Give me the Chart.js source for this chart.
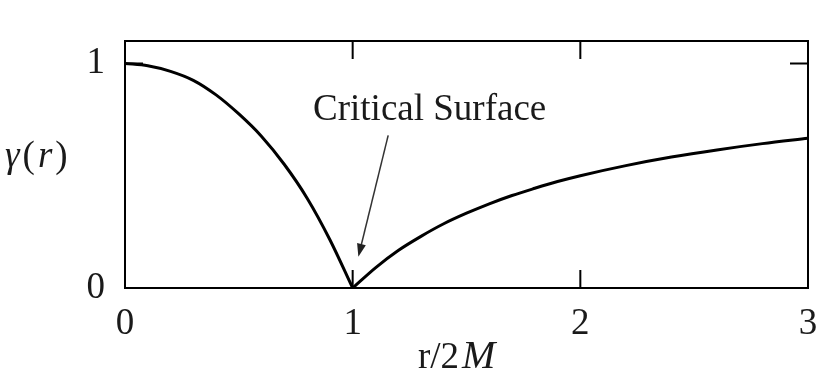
<!DOCTYPE html>
<html>
<head>
<meta charset="utf-8">
<script src="https://cdn.jsdelivr.net/npm/chart.js@4.4.1/dist/chart.umd.min.js"></script>
<style>
  html, body { margin: 0; padding: 0; background: #fff; }
  #wrap { width: 830px; height: 378px; }
</style>
</head>
<body>
<div id="wrap"><canvas id="gammaChart"></canvas></div>
<script>
// r/2M values and gamma(r)
const rInner = [0, 0.1, 0.2, 0.3, 0.4, 0.5, 0.6, 0.7, 0.8, 0.9, 1.0];
const gammaInner = [1.0, 0.99, 0.965, 0.925, 0.86, 0.775, 0.675, 0.55, 0.4, 0.215, 0];
const rOuter = [1.0, 1.1, 1.2, 1.3, 1.4, 1.5, 1.6, 1.7, 1.8, 1.9, 2.0, 2.2, 2.4, 2.6, 2.8, 3.0];
const gammaOuter = [0, 0.09, 0.167, 0.23, 0.286, 0.333, 0.375, 0.412, 0.444, 0.474, 0.5, 0.545, 0.583, 0.615, 0.643, 0.667];
const xTicks = [0, 1, 2, 3];
const yTicks = [0, 1];

const serif = "'Liberation Serif', 'DejaVu Serif', serif";
const ink = "#1a1a1a";

const frame = {
    id: "frame",
    afterDraw(chart) {
        const c = chart.ctx;
        const a = chart.chartArea;
        const x = chart.scales.x, y = chart.scales.y;
        c.save();
        c.strokeStyle = "#000";
        c.lineWidth = 2;
        c.strokeRect(a.left, a.top, a.right - a.left, a.bottom - a.top);

        // inward ticks
        c.beginPath();
        [1, 2].forEach(v => {
            const px = x.getPixelForValue(v);
            c.moveTo(px, a.bottom); c.lineTo(px, a.bottom - 18);
            c.moveTo(px, a.top); c.lineTo(px, a.top + 18);
        });
        const py = y.getPixelForValue(1);
        c.moveTo(a.left, py); c.lineTo(a.left + 18, py);
        c.moveTo(a.right, py); c.lineTo(a.right - 18, py);
        c.stroke();

        // annotation
        c.fillStyle = ink;
        c.font = "37px " + serif;
        c.textBaseline = "alphabetic";
        c.textAlign = "left";
        c.fillText("Critical Surface", x.getPixelForValue(0.826), y.getPixelForValue(0.747));

        const x1 = x.getPixelForValue(1.156), y1 = y.getPixelForValue(0.68);
        const x2 = x.getPixelForValue(1.025), y2 = y.getPixelForValue(0.139);
        const ang = Math.atan2(y2 - y1, x2 - x1);
        c.strokeStyle = "#333";
        c.lineWidth = 1.5;
        c.beginPath();
        c.moveTo(x1, y1);
        c.lineTo(x2 - 8 * Math.cos(ang), y2 - 8 * Math.sin(ang));
        c.stroke();
        c.fillStyle = "#222";
        c.beginPath();
        c.moveTo(x2, y2);
        c.lineTo(x2 - 13 * Math.cos(ang) + 4.5 * Math.sin(ang), y2 - 13 * Math.sin(ang) - 4.5 * Math.cos(ang));
        c.lineTo(x2 - 13 * Math.cos(ang) - 4.5 * Math.sin(ang), y2 - 13 * Math.sin(ang) + 4.5 * Math.cos(ang));
        c.closePath();
        c.fill();

        // axis titles
        c.fillStyle = ink;
        let tx = 418;
        c.font = "37px " + serif;
        c.fillText("r/2", tx, 368);
        tx += c.measureText("r/2").width + 3;
        c.font = "italic 40px " + serif;
        c.fillText("M", tx, 368);

        tx = 5;
        const parts = [["γ", "italic"], ["(", ""], ["r", "italic"], [")", ""]];
        parts.forEach(p => {
            c.font = (p[1] ? p[1] + " " : "") + "37px " + serif;
            c.fillText(p[0], tx, 167);
            tx += c.measureText(p[0]).width + 3;
        });
        c.restore();
    }
};

new Chart(document.getElementById("gammaChart"), {
    type: "scatter",
    data: {
        datasets: [
            {
                data: rInner.map((r, i) => ({ x: r, y: gammaInner[i] })),
                showLine: true,
                borderColor: "#000",
                borderWidth: 3,
                pointRadius: 0,
                cubicInterpolationMode: "monotone"
            },
            {
                data: rOuter.map((r, i) => ({ x: r, y: gammaOuter[i] })),
                showLine: true,
                borderColor: "#000",
                borderWidth: 3,
                pointRadius: 0,
                cubicInterpolationMode: "monotone"
            }
        ]
    },
    options: {
        responsive: true,
        maintainAspectRatio: false,
        animation: false,
        layout: { padding: { top: 41, right: 22, left: 0, bottom: 0 } },
        scales: {
            x: {
                type: "linear",
                min: 0,
                max: 3,
                afterBuildTicks: s => { s.ticks = xTicks.map(v => ({ value: v })); },
                afterFit: s => { s.height = 90; },
                grid: { display: false },
                border: { display: false },
                ticks: {
                    color: ink,
                    padding: 6,
                    font: { family: serif, size: 37 },
                    maxRotation: 0
                }
            },
            y: {
                min: 0,
                max: 1.1,
                afterBuildTicks: s => { s.ticks = yTicks.map(v => ({ value: v })); },
                afterFit: s => { s.width = 125; },
                grid: { display: false },
                border: { display: false },
                ticks: {
                    color: ink,
                    padding: 12,
                    font: { family: serif, size: 37 }
                }
            }
        },
        plugins: {
            legend: { display: false },
            tooltip: { enabled: false }
        }
    },
    plugins: [frame]
});
</script>
</body>
</html>
